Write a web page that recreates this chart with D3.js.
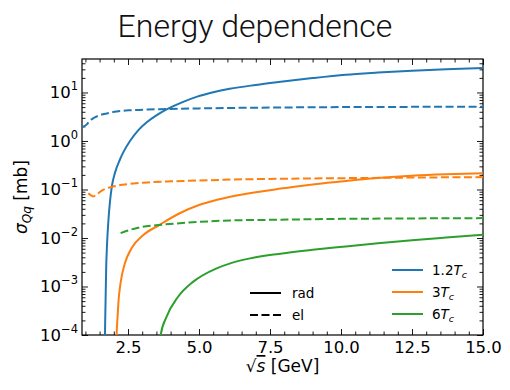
<!DOCTYPE html>
<html>
<head>
<meta charset="utf-8">
<script src="https://cdn.jsdelivr.net/npm/d3@7"></script>
<style>
  body { margin: 0; background: #fff; }
  text { font-family: "DejaVu Sans", sans-serif; }
</style>
</head>
<body>
<div id="chart"></div>
<script>
// data (sqrt(s) in GeV, sigma in mb)
let rad12_x = [1.685, 1.69, 1.71, 1.73, 1.76, 1.81, 1.87, 1.93, 2.04, 2.22, 2.35, 2.57, 2.85, 3.16, 3.5, 3.86, 4.4, 4.91, 5.5, 6.08, 7.0, 7.8, 9.0, 10.17, 11.3, 12.5, 13.7, 15.0];
let rad12_y = [5e-5, 1e-4, 5e-4, 2.2e-3, 7e-3, 0.023, 0.06, 0.115, 0.22, 0.42, 0.61, 1.0, 1.64, 2.43, 3.37, 4.47, 6.25, 8.1, 10.1, 11.9, 14.3, 16.4, 19.8, 23.2, 25.7, 28.2, 30.2, 32];

let rad3_x = [2.09, 2.10, 2.13, 2.16, 2.24, 2.39, 2.63, 3.04, 3.6, 4.3, 5.0, 5.6, 6.1, 7.0, 7.8, 9.0, 10.17, 11.3, 12.5, 13.7, 15.0];
let rad3_y = [5e-5, 1e-4, 2.2e-4, 4.5e-4, 0.0012, 0.003, 0.0062, 0.0115, 0.0185, 0.032, 0.048, 0.0605, 0.0708, 0.088, 0.103, 0.127, 0.15, 0.172, 0.192, 0.206, 0.216];

let rad6_x = [3.60, 3.65, 3.86, 4.25, 4.8, 5.6, 6.1, 6.8, 7.8, 9.0, 10.17, 11.3, 12.5, 13.7, 15.0];
let rad6_y = [6e-5, 1e-4, 2.4e-4, 6e-4, 0.00126, 0.00234, 0.003, 0.0038, 0.0047, 0.0057, 0.0067, 0.0078, 0.009, 0.0102, 0.0116];

let el12_x = [0.88, 0.95, 1.05, 1.15, 1.28, 1.45, 1.75, 2.1, 2.57, 3.2, 3.86, 5.0, 6.1, 7.8, 10.0, 12.5, 15.0];
let el12_y = [1.95, 2.0, 2.2, 2.6, 2.95, 3.3, 3.7, 4.05, 4.3, 4.45, 4.55, 4.7, 4.8, 4.9, 5.0, 5.05, 5.1];

let el3_x = [1.10, 1.2, 1.28, 1.4, 1.52, 1.7, 1.98, 2.3, 2.69, 3.2, 4.0, 5.0, 6.1, 7.8, 10.0, 12.5, 15.0];
let el3_y = [0.083, 0.076, 0.072, 0.078, 0.09, 0.103, 0.115, 0.125, 0.133, 0.14, 0.147, 0.153, 0.16, 0.166, 0.171, 0.176, 0.18];

let el6_x = [2.24, 2.5, 2.92, 3.57, 4.5, 6.09, 7.8, 10.0, 12.5, 15.0];
let el6_y = [0.0126, 0.0143, 0.0166, 0.0185, 0.0205, 0.023, 0.0238, 0.0248, 0.0253, 0.0257];

let temps = ['1.2', '3', '6'];
let colors = ['#1f77b4', '#ff7f0e', '#2ca02c'];
let x_ticks = [2.5, 5.0, 7.5, 10.0, 12.5, 15.0];
let y_ticks = [1e-4, 1e-3, 1e-2, 1e-1, 1e0, 1e1];
let y_exps = ['\u22124', '\u22123', '\u22122', '\u22121', '0', '1'];

let chart_width = 510;
let chart_height = 390;
let pad_left = 82, pad_right = 483, pad_top = 59, pad_bottom = 335;

let svg = d3
  .select('#chart')
  .append('svg')
  .attr('width', chart_width)
  .attr('height', chart_height);

let x_scale = d3.scaleLinear().domain([0.88, 15]).range([pad_left, pad_right]);
let y_scale = d3.scaleLog().domain([1e-4, 49]).range([pad_bottom, pad_top]);

// title
svg
  .append('text')
  .attr('x', 255)
  .attr('y', 37)
  .attr('text-anchor', 'middle')
  .style('font-family', 'Roboto, sans-serif')
  .style('font-weight', 300)
  .style('font-size', '32px')
  .attr('fill', '#111')
  .text('Energy dependence');

svg
  .append('clipPath')
  .attr('id', 'plot-clip')
  .append('rect')
  .attr('x', pad_left)
  .attr('y', pad_top)
  .attr('width', pad_right - pad_left)
  .attr('height', pad_bottom - pad_top);

// minor tick values
let x_minor = d3.range(1, 15.01, 0.5).filter(v => v % 2.5 !== 0);
let y_minor = [];
for (let e = -4; e <= 1; e++) {
  for (let k = 2; k <= 9; k++) {
    let v = k * Math.pow(10, e);
    if (v <= 49) y_minor.push(v);
  }
}

function styleAxis(g) {
  g.select('.domain').remove();
  g.selectAll('.tick line').attr('stroke', '#000').attr('stroke-width', 0.9);
}

// x axes (bottom with labels, top without)
svg
  .append('g')
  .attr('transform', 'translate(0,' + pad_bottom + ')')
  .call(d3.axisBottom(x_scale).tickValues(x_ticks).tickSize(-6).tickPadding(6).tickFormat(d3.format('.1f')))
  .call(styleAxis)
  .call(g => g.selectAll('text').style('font-size', '16.5px').attr('fill', '#000'));
svg
  .append('g')
  .attr('transform', 'translate(0,' + pad_bottom + ')')
  .call(d3.axisBottom(x_scale).tickValues(x_minor).tickSize(-3.5).tickFormat(''))
  .call(styleAxis);
svg
  .append('g')
  .attr('transform', 'translate(0,' + pad_top + ')')
  .call(d3.axisTop(x_scale).tickValues(x_ticks).tickSize(-6).tickFormat(''))
  .call(styleAxis);
svg
  .append('g')
  .attr('transform', 'translate(0,' + pad_top + ')')
  .call(d3.axisTop(x_scale).tickValues(x_minor).tickSize(-3.5).tickFormat(''))
  .call(styleAxis);

// y axes
svg
  .append('g')
  .attr('transform', 'translate(' + pad_left + ',0)')
  .call(d3.axisLeft(y_scale).tickValues(y_ticks).tickSize(-6).tickFormat(''))
  .call(styleAxis);
svg
  .append('g')
  .attr('transform', 'translate(' + pad_left + ',0)')
  .call(d3.axisLeft(y_scale).tickValues(y_minor).tickSize(-3.5).tickFormat(''))
  .call(styleAxis);
svg
  .append('g')
  .attr('transform', 'translate(' + pad_right + ',0)')
  .call(d3.axisRight(y_scale).tickValues(y_ticks).tickSize(-6).tickFormat(''))
  .call(styleAxis);
svg
  .append('g')
  .attr('transform', 'translate(' + pad_right + ',0)')
  .call(d3.axisRight(y_scale).tickValues(y_minor).tickSize(-3.5).tickFormat(''))
  .call(styleAxis);

// y tick labels 10^n
let ylab = svg
  .append('g')
  .selectAll('text')
  .data(y_ticks)
  .enter()
  .append('text')
  .attr('x', pad_left - 4)
  .attr('y', d => y_scale(d) + 6)
  .attr('text-anchor', 'end')
  .style('font-size', '16.5px');
ylab.append('tspan').text('10');
ylab
  .append('tspan')
  .attr('dy', -8)
  .style('font-size', '11.5px')
  .text((d, i) => y_exps[i]);

// frame
svg
  .append('rect')
  .attr('x', pad_left)
  .attr('y', pad_top)
  .attr('width', pad_right - pad_left)
  .attr('height', pad_bottom - pad_top)
  .attr('fill', 'none')
  .attr('stroke', '#000')
  .attr('stroke-width', 1.2);

// axis labels
let xl = svg
  .append('text')
  .attr('x', (pad_left + pad_right) / 2)
  .attr('y', 372)
  .attr('text-anchor', 'middle')
  .style('font-size', '17px');
xl.append('tspan').text('\u221A');
xl.append('tspan').style('font-style', 'italic').attr('text-decoration', 'overline').text('s');
xl.append('tspan').text(' [GeV]');

let yl = svg
  .append('text')
  .attr('transform', 'translate(27,' + (pad_top + pad_bottom) / 2 + ') rotate(-90)')
  .attr('text-anchor', 'middle')
  .style('font-size', '17px');
yl.append('tspan').style('font-style', 'italic').text('\u03C3');
yl.append('tspan').attr('dy', 3.5).style('font-size', '12px').style('font-style', 'italic').text('Qq');
yl.append('tspan').attr('dy', -3.5).text(' [mb]');

// curves
let series = [
  { x: rad12_x, y: rad12_y, c: 0, dash: null },
  { x: rad3_x, y: rad3_y, c: 1, dash: null },
  { x: rad6_x, y: rad6_y, c: 2, dash: null },
  { x: el12_x, y: el12_y, c: 0, dash: '8,3.5' },
  { x: el3_x, y: el3_y, c: 1, dash: '8,3.5' },
  { x: el6_x, y: el6_y, c: 2, dash: '8,3.5' }
];

let line = d3
  .line()
  .x(d => x_scale(d[0]))
  .y(d => y_scale(d[1]))
  .curve(d3.curveMonotoneX);

svg
  .append('g')
  .attr('clip-path', 'url(#plot-clip)')
  .selectAll('path')
  .data(series)
  .enter()
  .append('path')
  .attr('d', s => line(d3.zip(s.x, s.y)))
  .attr('fill', 'none')
  .attr('stroke', s => colors[s.c])
  .attr('stroke-width', 2)
  .attr('stroke-dasharray', s => s.dash);

// legend: line styles
let styleLeg = svg.append('g');
[['rad', null], ['el', '8,3.5']].forEach((d, i) => {
  let y = 293 + i * 22;
  styleLeg.append('line')
    .attr('x1', 250).attr('x2', 281).attr('y1', y).attr('y2', y)
    .attr('stroke', '#000').attr('stroke-width', 2)
    .attr('stroke-dasharray', d[1]);
  styleLeg.append('text')
    .attr('x', 292).attr('y', y + 5)
    .style('font-size', '13.5px')
    .text(d[0]);
});

// legend: temperatures
let tempLeg = svg.append('g');
temps.forEach((t, i) => {
  let y = 270 + i * 22;
  tempLeg.append('line')
    .attr('x1', 392).attr('x2', 423).attr('y1', y).attr('y2', y)
    .attr('stroke', colors[i]).attr('stroke-width', 2);
  let tx = tempLeg.append('text')
    .attr('x', 432).attr('y', y + 5)
    .style('font-size', '13.5px');
  tx.append('tspan').text(t);
  tx.append('tspan').style('font-style', 'italic').text('T');
  tx.append('tspan').attr('dy', 3).style('font-size', '9.5px').style('font-style', 'italic').text('c');
});
</script>
</body>
</html>
